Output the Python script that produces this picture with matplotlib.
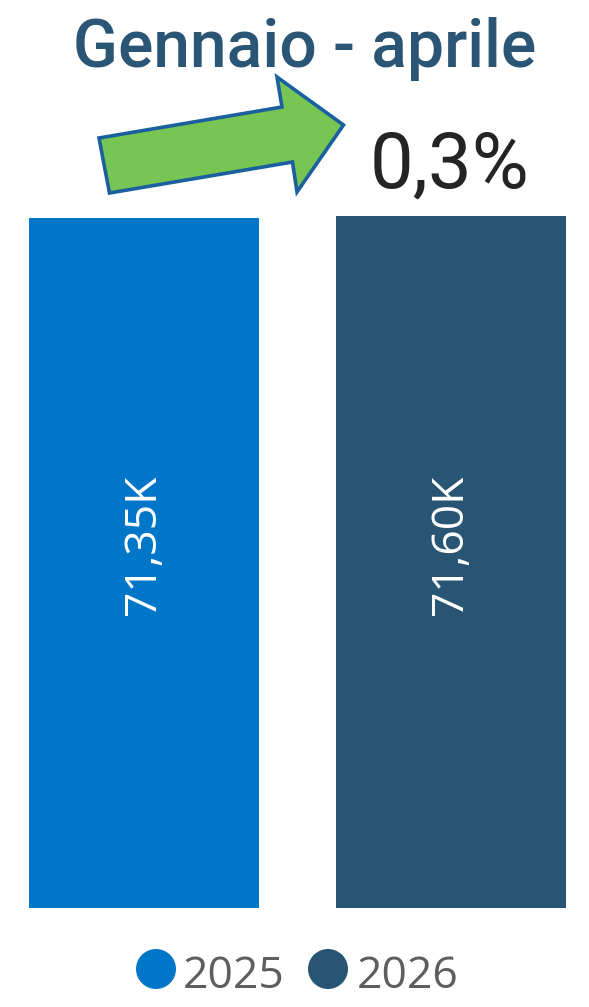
import matplotlib
matplotlib.use("Agg")
import matplotlib.pyplot as plt
from matplotlib.patches import Polygon, Circle

# ---- data ----
categories = ["2025", "2026"]
values = [71.35, 71.60]          # thousands
value_labels = ["71,35K", "71,60K"]
colors = ["#0076C9", "#285573"]
title = "Gennaio - aprile"
change_label = "0,3%"

W, H, DPI = 589, 1007, 100
fig = plt.figure(figsize=(W / DPI, H / DPI), dpi=DPI)
fig.patch.set_facecolor("white")

def fx(px):
    return px / W

def fy(py):
    return 1 - py / H

# axes: bottom at 908 px, top at 0 px
bottom_px = 908
ax = fig.add_axes([0, fy(bottom_px), 1, bottom_px / H])
px_per_unit = 690 / 71.35
ax.set_ylim(0, bottom_px / px_per_unit)
c0, step = 144, 307
ax.set_xlim(-c0 / step, (W - c0) / step)
ax.axis("off")

x = list(range(len(categories)))
ax.bar(x, values, width=230 / step, color=colors)
for xi, lab in zip(x, value_labels):
    ax.text(xi, (bottom_px - 545) / px_per_unit, lab, rotation=90,
            ha="center", va="center", color="white", fontsize=32,
            family="Open Sans", fontweight="normal")

# title
fig.text(fx(305), fy(66.7), title, ha="center", va="baseline",
         fontsize=47.5, color="#2A5575", family="Roboto", fontweight="medium")

# change label
fig.text(fx(450), fy(188), change_label, ha="center", va="baseline",
         fontsize=56, color="#252423", family="Roboto", fontweight="normal")

# arrow polygon (pixel coords)
arrow_px = [(99, 138), (282, 107), (277, 77), (343.5, 125),
            (297, 192), (292.5, 162), (109.5, 193)]
arrow = Polygon([(fx(a), fy(b)) for a, b in arrow_px], closed=True,
                transform=fig.transFigure, facecolor="#77C553",
                edgecolor="#1A5F9E", linewidth=2.6, joinstyle="miter")
fig.add_artist(arrow)

# legend
leg_y = 969
for cat, col, cx, tx in zip(categories, colors, [156, 328], [183, 357]):
    circ = Circle((cx / DPI, (H - leg_y) / DPI), 20 / DPI,
                  transform=fig.dpi_scale_trans, facecolor=col, edgecolor="none")
    fig.add_artist(circ)
    fig.text(fx(tx), fy(988), cat, ha="left", va="baseline", fontsize=32,
             color="#605E5C", family="Open Sans")

fig.savefig("out.png", dpi=DPI, facecolor="white")
